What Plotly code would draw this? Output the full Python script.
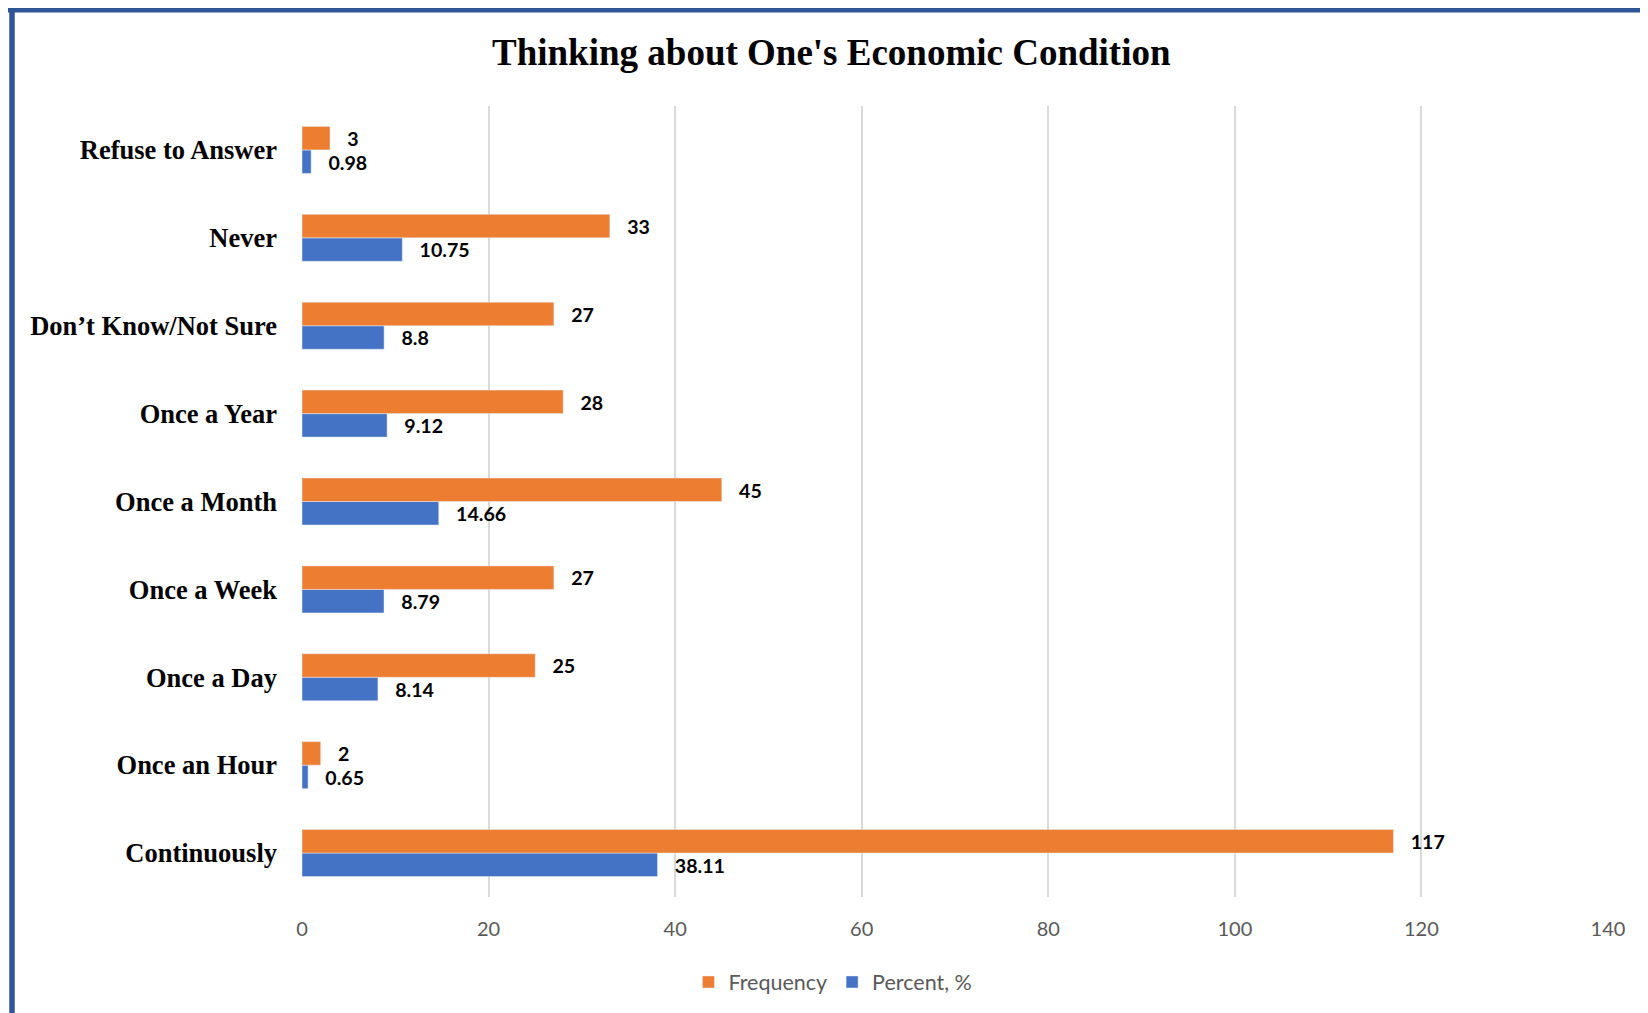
import plotly.graph_objects as go

categories = ["Continuously", "Once an Hour", "Once a Day", "Once a Week", "Once a Month",
              "Once a Year", "Don’t Know/Not Sure", "Never", "Refuse to Answer"]
frequency = [117, 2, 25, 27, 45, 28, 27, 33, 3]
percent = [38.11, 0.65, 8.14, 8.79, 14.66, 9.12, 8.8, 10.75, 0.98]
percent_labels = ["38.11", "0.65", "8.14", "8.79", "14.66", "9.12", "8.8", "10.75", "0.98"]
x_ticks = [0, 20, 40, 60, 80, 100, 120, 140]

# page body adds an 8px margin, so the figure is drawn slightly smaller
W, H = 1640, 1005
ML, MR, MT, MB = 294, 40, 98, 116
PW, PH = W - ML - MR, H - MT - MB

def px(x):
    return (x - ML) / PW

def py(y):
    return 1 - (y - MT) / PH

pad = "\u00a0\u00a0\u00a0"
label_font = dict(family="Lato, Open Sans, sans-serif", size=20, color="#000000", weight="bold")

fig = go.Figure()
fig.add_trace(go.Bar(
    y=categories, x=percent, name="Percent, %", orientation="h",
    marker=dict(color="#4472C4"), text=[pad + t for t in percent_labels],
    textposition="outside", textfont=label_font, cliponaxis=False, legendrank=2,
))
fig.add_trace(go.Bar(
    y=categories, x=frequency, name="Frequency", orientation="h",
    marker=dict(color="#ED7D31"), text=[pad + str(v) for v in frequency],
    textposition="outside", textfont=label_font, cliponaxis=False, legendrank=1,
))

fig.update_layout(
    width=W, height=H,
    margin=dict(l=ML, r=MR, t=MT, b=MB),
    paper_bgcolor="white", plot_bgcolor="white",
    barmode="group", bargap=0.465, bargroupgap=0,
    title=dict(text="Thinking about One's Economic Condition",
               font=dict(family="Liberation Serif, Times New Roman, serif", size=37,
                         color="#000000", weight="bold"),
               x=0.502, xref="container", xanchor="center",
               y=1 - 44 / H, yref="container", yanchor="middle"),
    xaxis=dict(range=[0, 140], tickvals=x_ticks, showgrid=True, gridcolor="#D9D9D9",
               gridwidth=1.5, zeroline=False, showline=False,
               tickfont=dict(family="Lato, Open Sans, sans-serif", size=20, color="#595959"),
               ticklabelstandoff=18),
    yaxis=dict(showgrid=False, zeroline=False, showline=False,
               tickfont=dict(family="Liberation Serif, Times New Roman, serif", size=26.5,
                             color="#000000", weight="bold"),
               ticklabelstandoff=24),
    legend=dict(orientation="h", xref="container", x=0.503, xanchor="center",
                yref="container", y=(H - 974) / H, yanchor="middle",
                font=dict(family="Lato, Open Sans, sans-serif", size=21.5, color="#595959"),
                itemwidth=30),
    showlegend=True,
    shapes=[
        dict(type="line", xref="paper", yref="paper", x0=px(0), x1=px(W), y0=py(2), y1=py(2),
             line=dict(color="#2F5597", width=5)),
        dict(type="line", xref="paper", yref="paper", x0=px(4), x1=px(4), y0=py(0), y1=py(H),
             line=dict(color="#2F5597", width=5.5)),
    ],
)

fig.write_html("out.html")
